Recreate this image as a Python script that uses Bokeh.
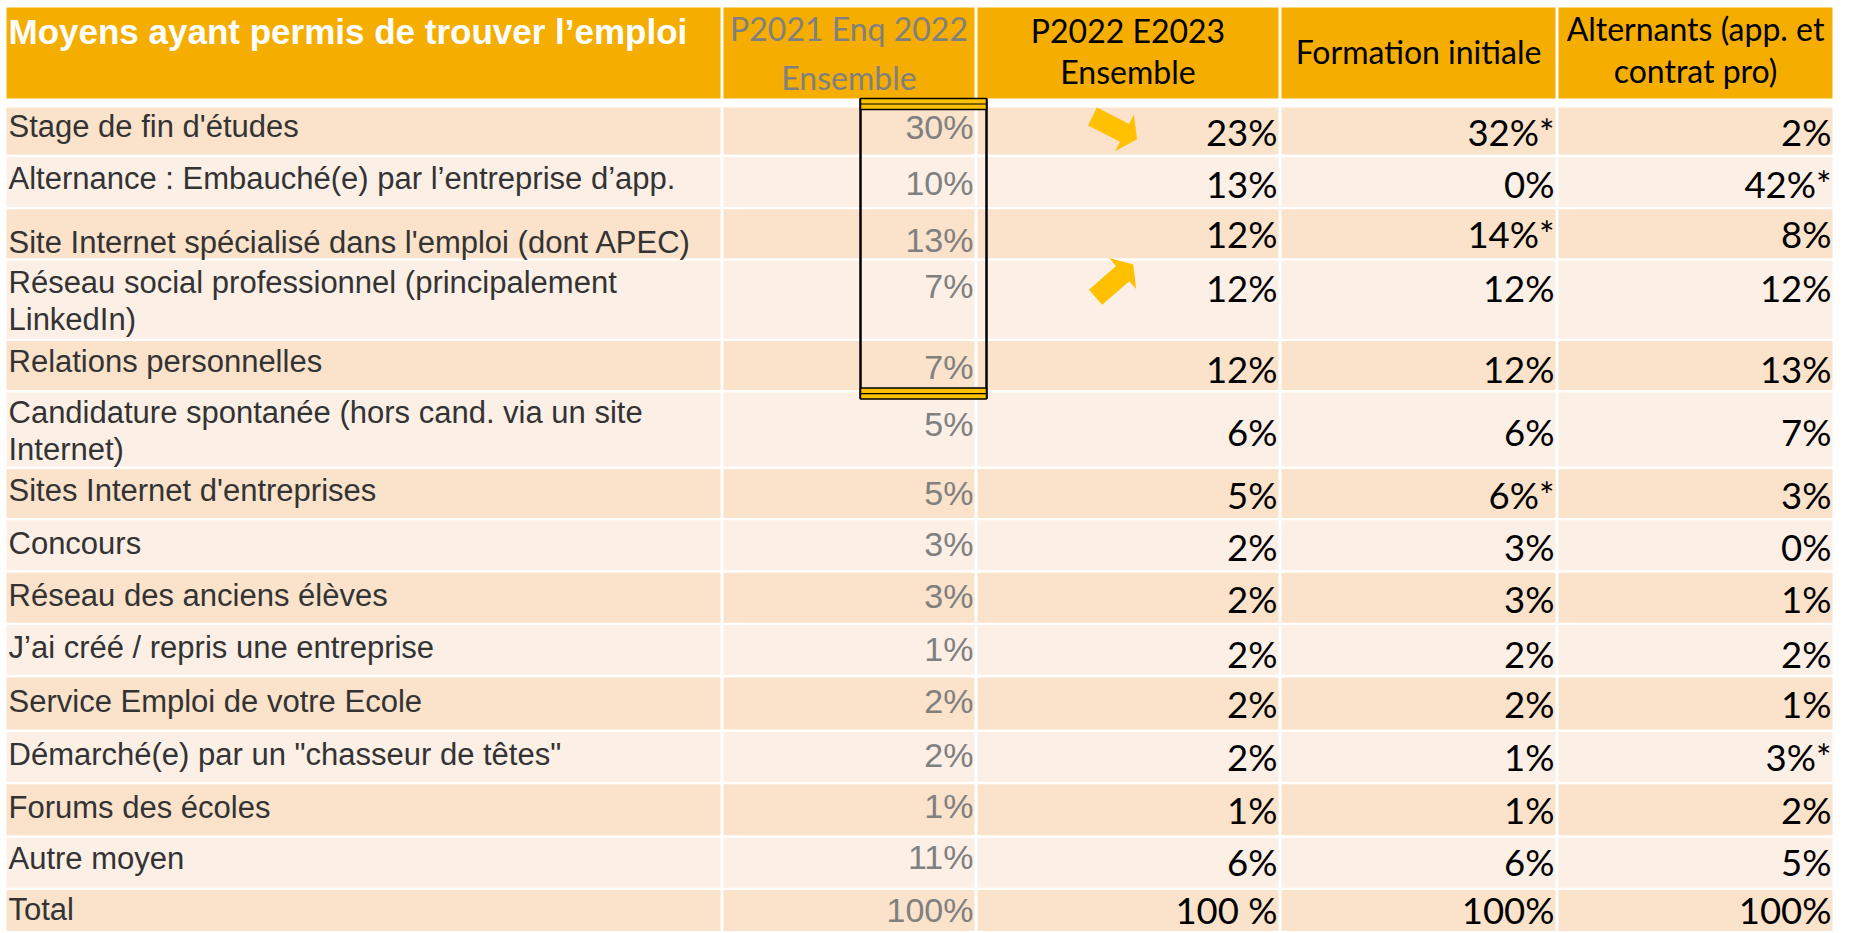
import math
from bokeh.plotting import figure
from bokeh.models import Range1d, ColumnDataSource
from bokeh.core.properties import value
from bokeh.embed import file_html
from bokeh.resources import INLINE

# ---------------- data ----------------
header_title = "Moyens ayant permis de trouver l’emploi"
col_headers = [
    ["P2021 Enq 2022", "Ensemble"],
    ["P2022 E2023", "Ensemble"],
    ["Formation initiale"],
    ["Alternants (app. et", "contrat pro)"],
]
categories = [
    "Stage de fin d'études",
    "Alternance : Embauché(e) par l’entreprise d’app.",
    "Site Internet spécialisé dans l'emploi (dont APEC)",
    "Réseau social professionnel (principalement\nLinkedIn)",
    "Relations personnelles",
    "Candidature spontanée (hors cand. via un site\nInternet)",
    "Sites Internet d'entreprises",
    "Concours",
    "Réseau des anciens élèves",
    "J’ai créé / repris une entreprise",
    "Service Emploi de votre Ecole",
    "Démarché(e) par un \"chasseur de têtes\"",
    "Forums des écoles",
    "Autre moyen",
    "Total",
]
p2021_ensemble = [30, 10, 13, 7, 7, 5, 5, 3, 3, 1, 2, 2, 1, 11, 100]
p2022_ensemble = [23, 13, 12, 12, 12, 6, 5, 2, 2, 2, 2, 2, 1, 6, 100]
formation_initiale = [32, 0, 14, 12, 12, 6, 6, 3, 3, 2, 2, 1, 1, 6, 100]
alternants = [2, 42, 8, 12, 13, 7, 3, 0, 1, 2, 1, 3, 2, 5, 100]
formation_sig = [1, 0, 1, 0, 0, 0, 1, 0, 0, 0, 0, 0, 0, 0, 0]
alternants_sig = [0, 1, 0, 0, 0, 0, 0, 0, 0, 0, 0, 1, 0, 0, 0]
total_labels = ["100%", "100 %", "100%", "100%"]

# ---------------- layout / style ----------------
W, H = 1846, 931
table_left = 6
col_w = [714, 251, 301, 274, 274]
col_gap = 3
head_top, head_bot = 7, 98
body_top = 107
row_h = [47, 50, 49, 78, 49, 74, 49, 50, 50, 50, 52, 50, 51, 50, 50]
row_gap = 2.4
line_step = 37

# wanted baselines, measured from the top of each row
label_dy = [29, 32, 43, 32, 31, 30, 32, 33, 33, 33, 34, 33, 33, 31, 30]
gray_dy = [31, 37, 42, 37, 37, 43, 35, 35, 35, 35, 35, 34, 33, 31, 31]
val_dy = [38, 41, 38, 41, 41, 53, 40, 40, 40, 42, 40, 39, 39, 38, 33]
head_base = [[40, 89], [42, 83], [63], [40, 82]]
title_base = 43

# renderer puts glyphs slightly below the requested baseline: compensate
ARIAL_K = 0.33
LATO_K = 0.37

S_TITLE, S_HEAD, S_LABEL, S_GRAY, S_VAL = 35, 32, 31, 34, 36.5

HEAD = "#F5AE00"
DARK = "#FAE2CB"
LIGHT = "#FCEFE6"
GOLD = "#FFC000"
GRAY = "#808080"
LABEL = "#333333"

ARIAL = value("Liberation Sans")
CALIB = value("Lato")


def bl(y, size, k):
    return y - k * size


col_left, col_right = [], []
x = table_left
for w in col_w:
    col_left.append(x)
    col_right.append(x + w)
    x += w + col_gap

row_top, row_bot = [], []
y = body_top
for h in row_h:
    row_top.append(y)
    row_bot.append(y + h)
    y += h + row_gap

p = figure(width=W, height=H,
           x_range=Range1d(0, W), y_range=Range1d(H, 0),
           output_backend="svg", toolbar_location=None, min_border=0,
           x_axis_location=None, y_axis_location=None)
p.grid.visible = False
p.outline_line_color = None
p.background_fill_color = "white"
p.border_fill_color = "white"

# header cells
p.quad(left=col_left, right=col_right, top=[head_top] * 5, bottom=[head_bot] * 5,
       fill_color=HEAD, line_color=None)

# body cells
L, R, T, B, C = [], [], [], [], []
for i in range(len(categories)):
    for j in range(5):
        L.append(col_left[j]); R.append(col_right[j])
        T.append(row_top[i]); B.append(min(row_bot[i], H))
        C.append(DARK if i % 2 == 0 else LIGHT)
p.quad(left=L, right=R, top=T, bottom=B, fill_color=C, line_color=None)

# header texts
p.text(x=[col_left[0] + 2], y=[bl(title_base, S_TITLE, ARIAL_K)], text=[header_title],
       text_font=ARIAL, text_font_style="bold", text_font_size=f"{S_TITLE}px",
       text_color="white", text_align="left", text_baseline="alphabetic")
hx, hy, ht, hc = [], [], [], []
for j, lines in enumerate(col_headers):
    cx = (col_left[j + 1] + col_right[j + 1]) / 2
    for k, line in enumerate(lines):
        hx.append(cx); hy.append(bl(head_base[j][k], S_HEAD, LATO_K)); ht.append(line)
        hc.append(GRAY if j == 0 else "black")
p.text(x=hx, y=hy, text=ht, text_color=hc, text_font=CALIB, text_font_size=f"{S_HEAD}px",
       text_align="center", text_baseline="alphabetic")

# row labels
lx, ly, lt = [], [], []
for i, cat in enumerate(categories):
    for k, line in enumerate(cat.split("\n")):
        lx.append(col_left[0] + 2)
        ly.append(bl(row_top[i] + label_dy[i] + k * line_step, S_LABEL, ARIAL_K))
        lt.append(line)
p.text(x=lx, y=ly, text=lt, text_font=ARIAL, text_font_size=f"{S_LABEL}px",
       text_color=LABEL, text_align="left", text_baseline="alphabetic")


def fmt(v, sig, i, j):
    if i == len(categories) - 1:
        return total_labels[j]
    return f"{v}%" + ("*" if sig else "")


# previous year (gray) values
n = len(categories)
gsrc = ColumnDataSource(dict(
    x=[col_right[1] - 1] * n,
    y=[bl(row_top[i] + gray_dy[i], S_GRAY, ARIAL_K) for i in range(n)],
    t=[fmt(p2021_ensemble[i], 0, i, 0) for i in range(n)]))
p.text(x="x", y="y", text="t", source=gsrc, text_font=ARIAL, text_font_size=f"{S_GRAY}px",
       text_color=GRAY, text_align="right", text_baseline="alphabetic")

# current values
vx, vy, vt = [], [], []
series = [(p2022_ensemble, [0] * n), (formation_initiale, formation_sig), (alternants, alternants_sig)]
for j, (vals, sig) in enumerate(series):
    for i in range(n):
        vx.append(col_right[j + 2] - 1)
        vy.append(bl(row_top[i] + val_dy[i], S_VAL, LATO_K))
        vt.append(fmt(vals[i], sig[i], i, j + 1))
p.text(x=vx, y=vy, text=vt, text_font=CALIB, text_font_size=f"{S_VAL}px", text_color="black",
       text_align="right", text_baseline="alphabetic")

# highlight box around previous-year column (rows 1-5)
bx0, bx1 = col_right[1] - 114, col_right[1] + 12
by0, by1 = head_bot, row_bot[4] + 9
band = 11
p.segment(x0=[bx0, bx1], y0=[by0, by0], x1=[bx0, bx1], y1=[by1, by1],
          line_color="black", line_width=2.5)
p.quad(left=[bx0, bx0], right=[bx1, bx1], top=[by0, by1 - band], bottom=[by0 + band, by1],
       fill_color=GOLD, line_color="black", line_width=1.5)
p.segment(x0=[bx0, bx0], y0=[by0 + band / 2, by1 - band / 2],
          x1=[bx1, bx1], y1=[by0 + band / 2, by1 - band / 2],
          line_color="black", line_width=1.2)


# yellow block arrows
def block_arrow(tx, ty, ang, length=50, sw=20, hw=41, hl=14):
    a = math.radians(ang)
    dx, dy = math.cos(a), math.sin(a)
    nx, ny = -dy, dx
    sx, sy = tx + dx * (length - hl), ty + dy * (length - hl)
    px, py = tx + dx * length, ty + dy * length
    pts = [(tx + nx * sw / 2, ty + ny * sw / 2), (sx + nx * sw / 2, sy + ny * sw / 2),
           (sx + nx * hw / 2, sy + ny * hw / 2), (px, py),
           (sx - nx * hw / 2, sy - ny * hw / 2), (sx - nx * sw / 2, sy - ny * sw / 2),
           (tx - nx * sw / 2, ty - ny * sw / 2)]
    return [q[0] for q in pts], [q[1] for q in pts]


arrows = [(0, 115, 9, 27), (3, 118, 36.5, -41)]
axs, ays = [], []
for r, ox, oy, ang in arrows:
    xs, ys = block_arrow(col_left[2] + ox, row_top[r] + oy, ang)
    axs.append(xs); ays.append(ys)
p.patches(xs=axs, ys=ays, fill_color=GOLD, line_color=None)

open("out.html", "w").write(file_html(p, INLINE))
